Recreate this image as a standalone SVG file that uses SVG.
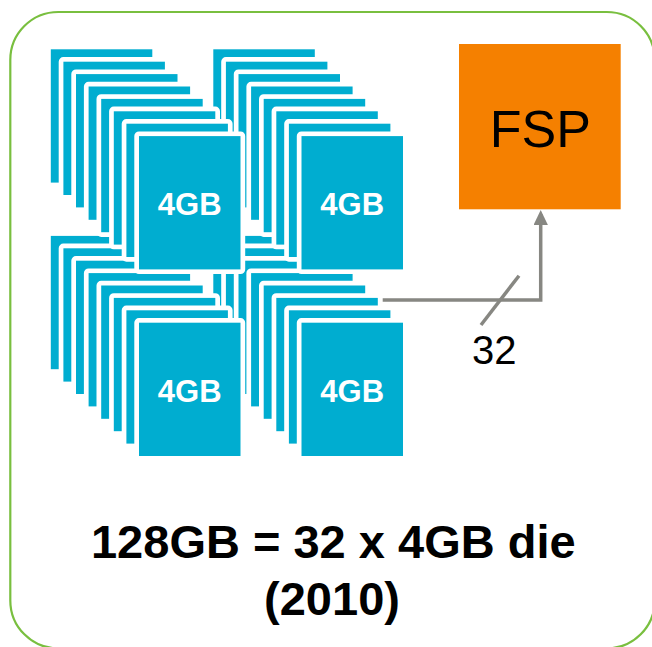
<svg xmlns="http://www.w3.org/2000/svg" xmlns:xlink="http://www.w3.org/1999/xlink" width="652" height="647" viewBox="0 0 652 647">
<style>
.frame{fill:#fff;stroke:#79BF3F;stroke-width:2.2}
.card{fill:#00ADD0;stroke:#fff;stroke-width:9.4;stroke-linejoin:round;paint-order:stroke}
.cardtxt{font-family:"Liberation Sans",Arial,sans-serif;font-weight:bold;font-size:31px;fill:#fff;text-anchor:middle}
.fsp{fill:#F58000}
.fsptxt{font-family:"Liberation Sans",Arial,sans-serif;font-size:52px;fill:#000;text-anchor:middle}
.wire{fill:none;stroke:#878782;stroke-width:3.5}
.lbl{font-family:"Liberation Sans",Arial,sans-serif;font-size:40px;fill:#000;text-anchor:middle}
.title{font-family:"Liberation Sans",Arial,sans-serif;font-weight:bold;font-size:47px;fill:#000;text-anchor:middle}
</style>
<defs>
<g id="stack">
<rect class="card" x="0" y="0" width="101.5" height="133.3"/>
<rect class="card" x="12.6" y="12.4" width="101.5" height="133.3"/>
<rect class="card" x="25.2" y="24.8" width="101.5" height="133.3"/>
<rect class="card" x="37.8" y="37.2" width="101.5" height="133.3"/>
<rect class="card" x="50.4" y="49.6" width="101.5" height="133.3"/>
<rect class="card" x="63" y="62" width="101.5" height="133.3"/>
<rect class="card" x="75.6" y="74.4" width="101.5" height="133.3"/>
<rect class="card" x="88.2" y="86.8" width="101.5" height="133.3"/>
</g>
<marker id="arr" viewBox="0 0 15 14.4" refX="11" refY="7.2" markerWidth="15" markerHeight="14.4" markerUnits="userSpaceOnUse" orient="auto">
<path d="M0,0 L15,7.2 L0,14.4 z" fill="#878782"/>
</marker>
</defs>
<rect class="frame" x="10.3" y="12" width="644.5" height="636.4" rx="48" ry="48"/>
<g id="stack4" transform="translate(213.3,235.9)">
<use xlink:href="#stack" href="#stack"/>
<text class="cardtxt" x="138.95" y="166.4">4GB</text>
</g>
<g id="stack3" transform="translate(50.8,235.9)">
<use xlink:href="#stack" href="#stack"/>
<text class="cardtxt" x="138.95" y="166.4">4GB</text>
</g>
<g id="stack2" transform="translate(213.3,49.3)">
<use xlink:href="#stack" href="#stack"/>
<text class="cardtxt" x="138.95" y="165.9">4GB</text>
</g>
<g id="stack1" transform="translate(50.8,49.3)">
<use xlink:href="#stack" href="#stack"/>
<text class="cardtxt" x="138.95" y="165.9">4GB</text>
</g>
<g id="fsp">
<rect class="fsp" x="459" y="44" width="161.7" height="165.3"/>
<text class="fsptxt" x="540.3" y="147.3">FSP</text>
</g>
<g id="connectors">
<path class="wire" d="M382.7,300 H540.7 V214" marker-end="url(#arr)"/>
<line class="wire" x1="481" y1="325" x2="519" y2="275.7"/>
<text class="lbl" x="494.2" y="364.3">32</text>
</g>
<g id="caption">
<text class="title" x="333.3" y="558.3">128GB = 32 x 4GB die</text>
<text class="title" x="332" y="615">(2010)</text>
</g>
</svg>
